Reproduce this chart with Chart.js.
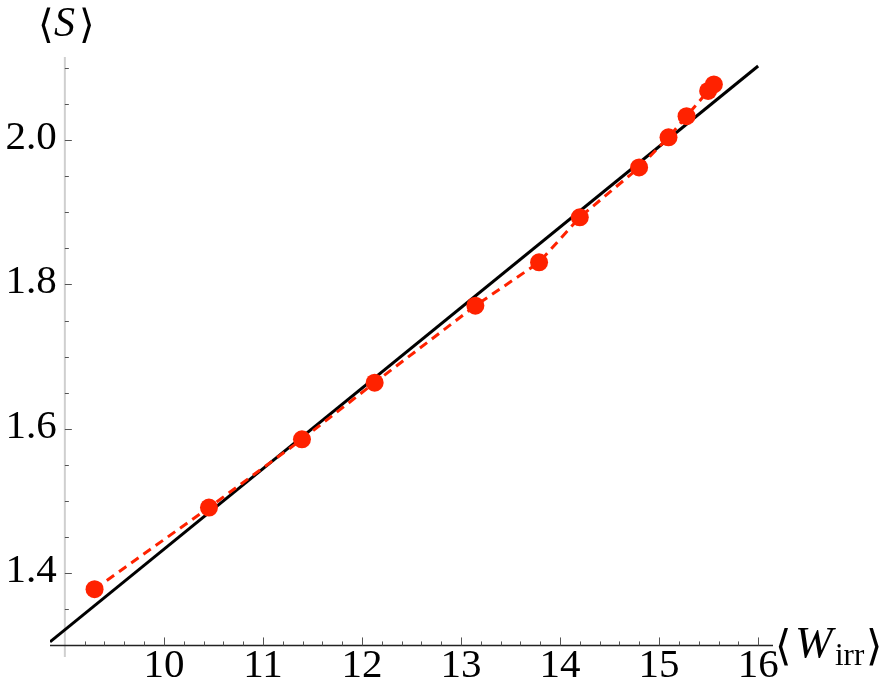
<!DOCTYPE html>
<html>
<head>
<meta charset="utf-8">
<script src="https://cdn.jsdelivr.net/npm/chart.js@4/dist/chart.umd.min.js"></script>
<style>
  html, body { margin: 0; padding: 0; background: #fff; }
  #wrap { width: 886px; height: 696px; position: relative; }
</style>
</head>
<body>
<div id="wrap"><canvas id="chart" width="886" height="696"></canvas></div>
<script>
// Measured data (red points, dashed)
const wIrr = [9.30, 10.455, 11.394, 12.128, 13.145, 13.788, 14.199, 14.798, 15.095, 15.277, 15.495, 15.553];
const sMean = [1.378, 1.491, 1.5855, 1.664, 1.7705, 1.8306, 1.893, 1.962, 2.0037, 2.033, 2.068, 2.077];

// Black reference line end points
const fitX = [8.85, 16.0];
const fitY = [1.305, 2.1025];

// Axis ticks
const xMajorTicks = [10, 11, 12, 13, 14, 15, 16];
const xTickLabels = ['10', '11', '12', '13', '14', '15', '16'];
const yMajorTicks = [1.4, 1.6, 1.8, 2.0];
const yTickLabels = ['1.4', '1.6', '1.8', '2.0'];

const X_ORIGIN = 9;
const Y_ORIGIN = 1.3;
const SERIF = '"Times New Roman", "Liberation Serif", serif';
const BRACKET = '"DejaVu Serif", serif';

/**
 * Mathematica-style axes: crossing at (9, 1.3), inward ticks, serif labels
 */
const mathAxes = {
    id: 'mathAxes',
    beforeDatasetsDraw(chart) {
        const ctx = chart.ctx;
        const xs = chart.scales.x;
        const ys = chart.scales.y;
        const ca = chart.chartArea;
        const x0 = xs.getPixelForValue(X_ORIGIN);
        const y0 = ys.getPixelForValue(Y_ORIGIN);

        ctx.save();
        // y axis (light grey)
        ctx.strokeStyle = '#cfcfcf';
        ctx.lineWidth = 2;
        ctx.beginPath();
        ctx.moveTo(x0, ca.top);
        ctx.lineTo(x0, ca.bottom);
        ctx.stroke();

        // y ticks
        ctx.strokeStyle = '#555';
        ctx.lineWidth = 1;
        for (let i = 0; i <= 16; i++) {
            const v = 1.3 + i * 0.05;
            const py = Math.round(ys.getPixelForValue(v)) + 0.5;
            const major = yMajorTicks.some(t => Math.abs(t - v) < 1e-6);
            ctx.beginPath();
            ctx.moveTo(x0, py);
            ctx.lineTo(x0 + (major ? 7 : 4), py);
            ctx.stroke();
        }

        // x axis (dark)
        ctx.strokeStyle = '#222';
        ctx.lineWidth = 1.6;
        ctx.beginPath();
        ctx.moveTo(ca.left, y0);
        ctx.lineTo(ca.right, y0);
        ctx.stroke();

        // x ticks
        ctx.strokeStyle = '#555';
        ctx.lineWidth = 1;
        for (let i = 1; i <= 35; i++) {
            const v = 9 + i * 0.2;
            const px = Math.round(xs.getPixelForValue(v)) + 0.5;
            const major = xMajorTicks.some(t => Math.abs(t - v) < 1e-6);
            ctx.beginPath();
            ctx.moveTo(px, y0);
            ctx.lineTo(px, y0 - (major ? 8 : 4));
            ctx.stroke();
        }
        ctx.restore();
    },
    afterDraw(chart) {
        const ctx = chart.ctx;
        const xs = chart.scales.x;
        const ys = chart.scales.y;
        const y0 = ys.getPixelForValue(Y_ORIGIN);
        const x0 = xs.getPixelForValue(X_ORIGIN);

        ctx.save();
        ctx.fillStyle = '#000';
        ctx.font = '41px ' + SERIF;

        // x tick labels
        ctx.textAlign = 'center';
        ctx.textBaseline = 'middle';
        xMajorTicks.forEach((t, i) => {
            ctx.fillText(xTickLabels[i], xs.getPixelForValue(t), y0 + 21);
        });

        // y tick labels
        ctx.textAlign = 'right';
        yMajorTicks.forEach((t, i) => {
            ctx.fillText(yTickLabels[i], x0 - 8, ys.getPixelForValue(t) - 2);
        });

        // y axis title  <S>
        ctx.textAlign = 'left';
        ctx.textBaseline = 'alphabetic';
        ctx.font = '40px ' + BRACKET;
        ctx.fillText('\u27E8', 38, 38);
        ctx.fillText('\u27E9', 79, 38);
        ctx.font = 'italic 42px ' + SERIF;
        ctx.fillText('S', 54, 36);

        // x axis title  <W_irr>
        ctx.font = '42px ' + BRACKET;
        ctx.fillText('\u27E8', 775, 660);
        ctx.fillText('\u27E9', 866, 660);
        ctx.font = 'italic 45px ' + SERIF;
        ctx.fillText('W', 795, 657);
        ctx.font = '31px ' + SERIF;
        ctx.fillText('irr', 835, 665);
        ctx.restore();
    }
};

const ctx = document.getElementById('chart');
new Chart(ctx, {
    type: 'scatter',
    data: {
        datasets: [
            {
                label: 'data',
                data: wIrr.map((x, i) => ({ x: x, y: sMean[i] })),
                showLine: true,
                borderColor: '#ff2200',
                borderWidth: 3,
                borderDash: [9, 6],
                backgroundColor: '#ff2200',
                pointRadius: 9,
                pointHoverRadius: 9,
                pointBorderWidth: 0,
                order: 1
            },
            {
                label: 'fit',
                data: fitX.map((x, i) => ({ x: x, y: fitY[i] })),
                showLine: true,
                borderColor: '#000',
                borderWidth: 3,
                pointRadius: 0,
                order: 2
            }
        ]
    },
    options: {
        responsive: false,
        animation: false,
        devicePixelRatio: 1,
        layout: { padding: { left: 50, right: 113, top: 57, bottom: 39 } },
        plugins: {
            legend: { display: false },
            tooltip: { enabled: false }
        },
        scales: {
            x: { type: 'linear', min: 8.85, max: 16.15, display: false },
            y: { type: 'linear', min: 1.284, max: 2.115, display: false }
        }
    },
    plugins: [mathAxes]
});
</script>
</body>
</html>
